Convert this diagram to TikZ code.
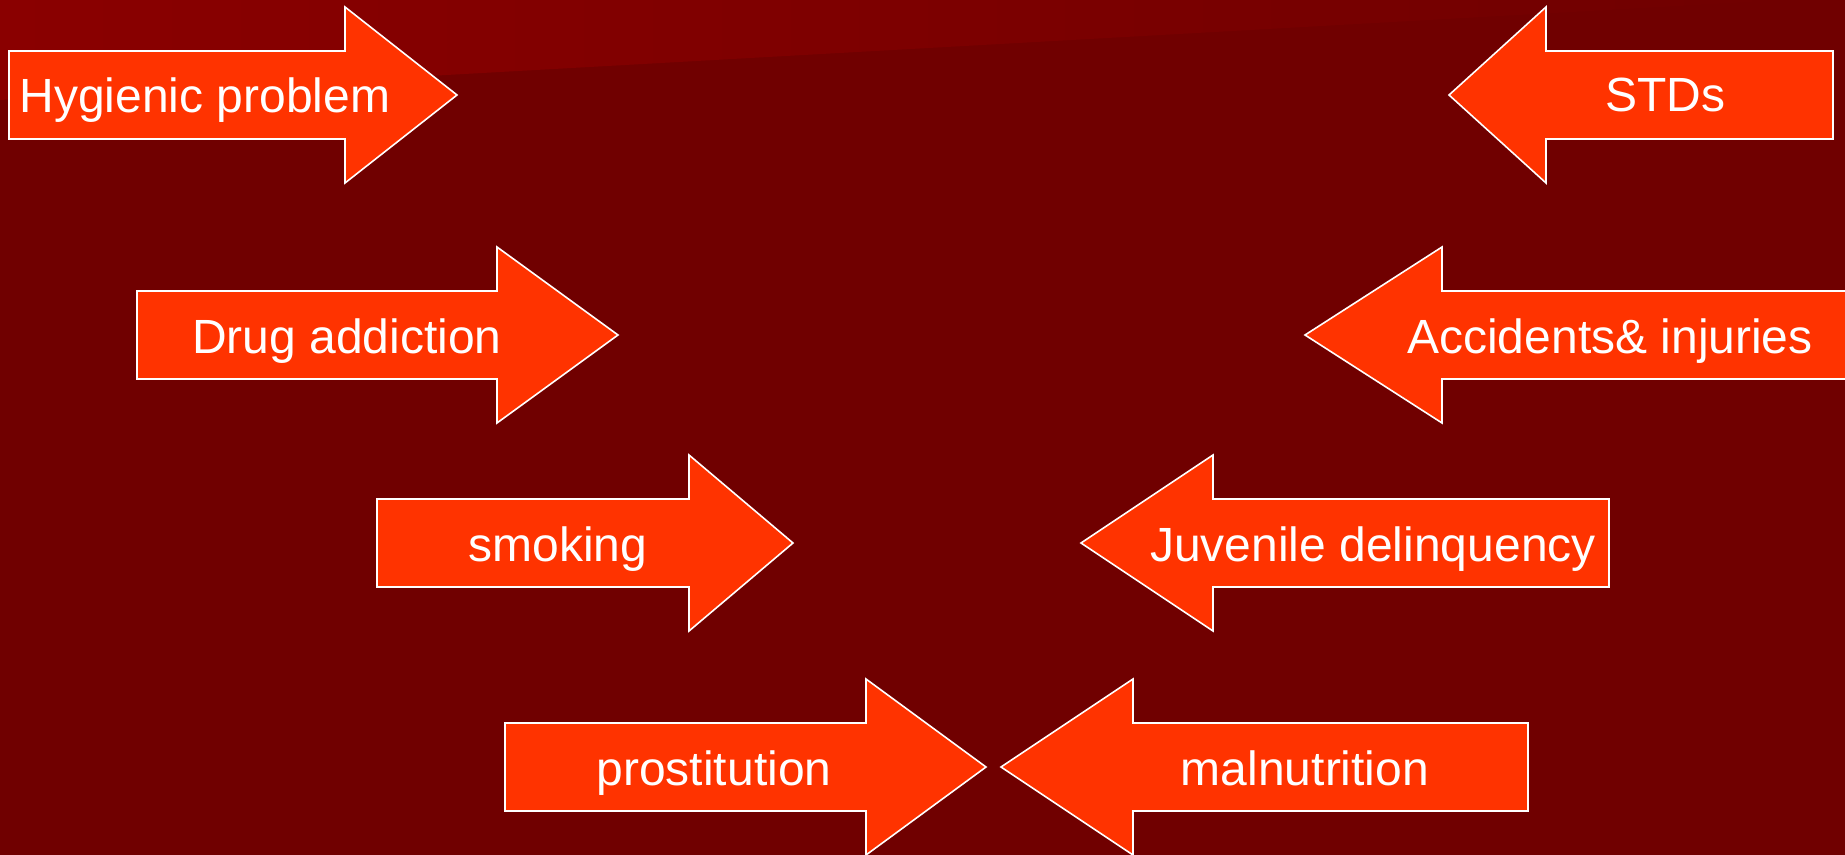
\documentclass[tikz,border=0pt]{standalone}
\usepackage{fontspec}
\setmainfont{Liberation Sans}
\usetikzlibrary{positioning}
\definecolor{slidebg}{RGB}{112,0,0}
\definecolor{slidetop}{RGB}{138,0,0}
\definecolor{arrowred}{RGB}{255,51,0}
\tikzset{arrowshape/.style={fill=arrowred, draw=white, line width=0.8pt, line join=miter},
    arrowlabel/.style={text=white, font=\fontsize{24}{28}\selectfont, anchor=base, inner sep=0pt}}

\begin{document}
\begin{tikzpicture}[x=0.5pt, y=-0.5pt]
    % Background
    \useasboundingbox (0,0) rectangle (1845,855);
    \clip (0,0) rectangle (1845,855);
    \fill [slidebg] (0,0) rectangle (1845,855);
    \shade [left color=slidetop, right color=slidebg] (0,0) -- (1786,0) -- (0,100) -- cycle;
    % Right arrows
    \path [arrowshape] (9,51) -- (345,51) -- (345,7) -- (457,95) -- (345,183) -- (345,139) -- (9,139) -- cycle;
    \path [arrowshape] (137,291) -- (497,291) -- (497,247) -- (618,335) -- (497,423) -- (497,379) -- (137,379) -- cycle;
    \path [arrowshape] (377,499) -- (689,499) -- (689,455) -- (793,543) -- (689,631) -- (689,587) -- (377,587) -- cycle;
    \path [arrowshape] (505,723) -- (866,723) -- (866,679) -- (986,767) -- (866,855) -- (866,811) -- (505,811) -- cycle;
    % Left arrows
    \path [arrowshape] (1833,51) -- (1546,51) -- (1546,7) -- (1449,95) -- (1546,183) -- (1546,139) -- (1833,139) -- cycle;
    \path [arrowshape] (1860,291) -- (1442,291) -- (1442,247) -- (1305,335) -- (1442,423) -- (1442,379) -- (1860,379) -- cycle;
    \path [arrowshape] (1609,499) -- (1213,499) -- (1213,455) -- (1081,543) -- (1213,631) -- (1213,587) -- (1609,587) -- cycle;
    \path [arrowshape] (1528,723) -- (1133,723) -- (1133,679) -- (1001,767) -- (1133,855) -- (1133,811) -- (1528,811) -- cycle;
    % Place labels
    \node [arrowlabel] (hygiene) at (205,113) {Hygienic problem};
    \node [arrowlabel] (drugs) at (347,353) {Drug addiction};
    \node [arrowlabel] (smoking) at (558,561) {smoking};
    \node [arrowlabel] (prostitution) at (714,785) {prostitution};
    \node [arrowlabel] (stds) at (1665,112) {STDs};
    \node [arrowlabel] (accidents) at (1610,353) {Accidents\& injuries};
    \node [arrowlabel] (juvenile) at (1373,561) {Juvenile delinquency};
    \node [arrowlabel] (malnutrition) at (1305,785) {malnutrition};
\end{tikzpicture}
\end{document}
